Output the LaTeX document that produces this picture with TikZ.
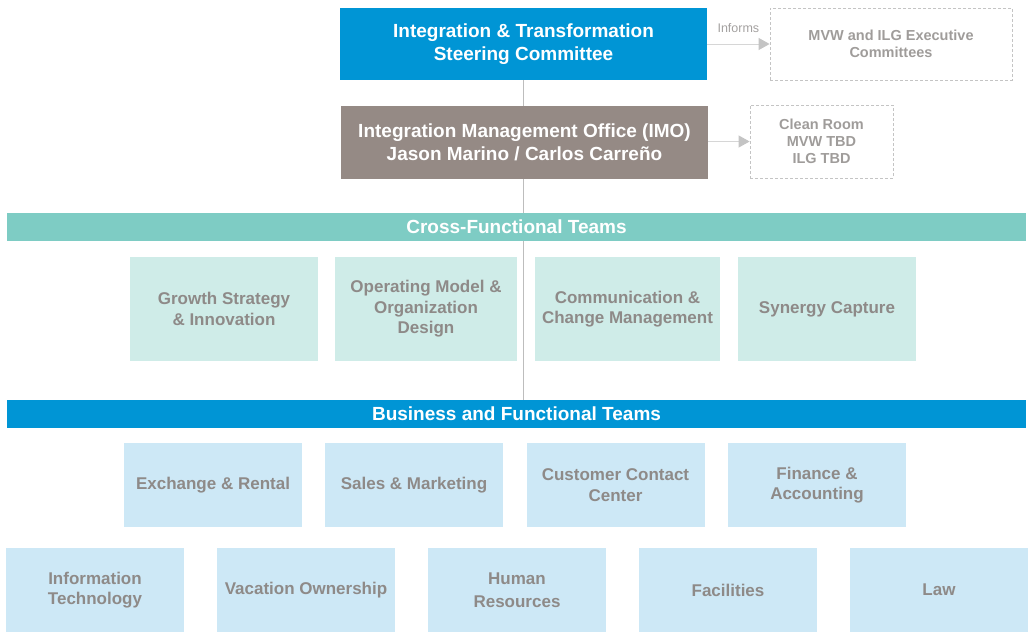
\documentclass[tikz,border=0pt]{standalone}
\usepackage{fontspec}
\setmainfont{Liberation Sans}
\usetikzlibrary{arrows.meta,backgrounds}
\definecolor{cblue}{HTML}{0095D5}
\definecolor{cimo}{HTML}{958A85}
\definecolor{cteal}{HTML}{7ECCC4}
\definecolor{cteallt}{HTML}{CFECE8}
\definecolor{cbluelt}{HTML}{CDE8F6}
\definecolor{ctext}{HTML}{8E8A88}
\definecolor{cdash}{HTML}{C4C4C4}
\definecolor{cline}{HTML}{BDBDBD}
\tikzset{
  x=1pt, y=-1pt,
  headbox/.style={fill=#1, text=white, font=\bfseries\fontsize{19}{23}\selectfont, align=center, inner sep=0pt},
  bar/.style={fill=#1, text=white, font=\bfseries\fontsize{19}{22}\selectfont, align=center, inner sep=0pt, minimum width=1019pt, minimum height=28pt},
  dashbox/.style={draw=cdash, dashed, dash pattern=on 3pt off 2pt, line width=0.8pt, text=ctext!85, font=\bfseries\fontsize{14.5}{17}\selectfont, align=center, inner sep=0pt},
  teambox/.style={fill=#1, text=ctext, font=\bfseries\fontsize{17}{20.5}\selectfont, align=center, inner sep=0pt, minimum height=84pt, minimum width=178pt},
  conn/.style={draw=cline, line width=1.4pt},
  inform/.style={draw=cdash!70, line width=1pt, -{Triangle[length=11pt,width=12pt,color=cdash]}}
}
\begin{document}
\begin{tikzpicture}
\useasboundingbox (0,0) rectangle (1031,632);
% top
\node[headbox=cblue, minimum width=367pt, minimum height=72pt] (top) at (523.5,44) {Integration \& Transformation\\Steering Committee};
\node[headbox=cimo, minimum width=367pt, minimum height=73pt] (imo) at (524.5,142.5) {Integration Management Office (IMO)\\Jason Marino / Carlos Carreño};
\node[dashbox, minimum width=242pt, minimum height=72pt] (exec) at (891,44) {MVW and ILG Executive\\Committees};
\node[dashbox, minimum width=143pt, minimum height=73pt] (clean) at (821.5,141.5) {Clean Room\\MVW TBD\\ILG TBD};
\draw[inform] (top.east |- exec.west) -- (exec.west) node[pos=0.5, above=8pt, text=ctext!80, font=\fontsize{12.5}{14}\selectfont] (inf) {Informs};
\draw[inform] (imo.east |- clean.west) -- (clean.west);
% bars
\node[bar=cteal] (cbar) at (516.5,227) {Cross-Functional Teams};
\node[bar=cblue] (bbar) at (516.5,414) {Business and Functional Teams};
% cross-functional boxes
\node[teambox=cteallt, minimum width=188pt, minimum height=104pt] (growth) at (224,309) {Growth Strategy\\\& Innovation};
\node[teambox=cteallt, minimum width=182pt, minimum height=104pt] (opmodel) at (426,309) {Operating Model \&\\Organization\\Design};
\node[teambox=cteallt, minimum width=185pt, minimum height=104pt] (comm) at (627.5,309) {Communication \&\\Change Management};
\node[teambox=cteallt, minimum width=178pt, minimum height=104pt] (syn) at (827,309) {Synergy Capture};
% business row 1
\node[teambox=cbluelt] (exch) at (213,485) {Exchange \& Rental};
\node[teambox=cbluelt] (sales) at (414,485) {Sales \& Marketing};
\node[teambox=cbluelt] (cust) at (615.5,485) {Customer Contact\\Center};
\node[teambox=cbluelt] (fin) at (817,485) {Finance \&\\Accounting};
% business row 2
\node[teambox=cbluelt] (it) at (95,590) {Information\\Technology};
\node[teambox=cbluelt] (vac) at (306,590) {Vacation Ownership};
\node[teambox=cbluelt] (hr) at (517,590) {Human\\[3pt]Resources};
\node[teambox=cbluelt] (fac) at (728,590) {Facilities};
\node[teambox=cbluelt] (law) at (939,590) {Law};
% spine
\begin{scope}[on background layer]
\draw[conn] (top.south) -- (top.south |- bbar.north);
\end{scope}
\end{tikzpicture}
\end{document}
